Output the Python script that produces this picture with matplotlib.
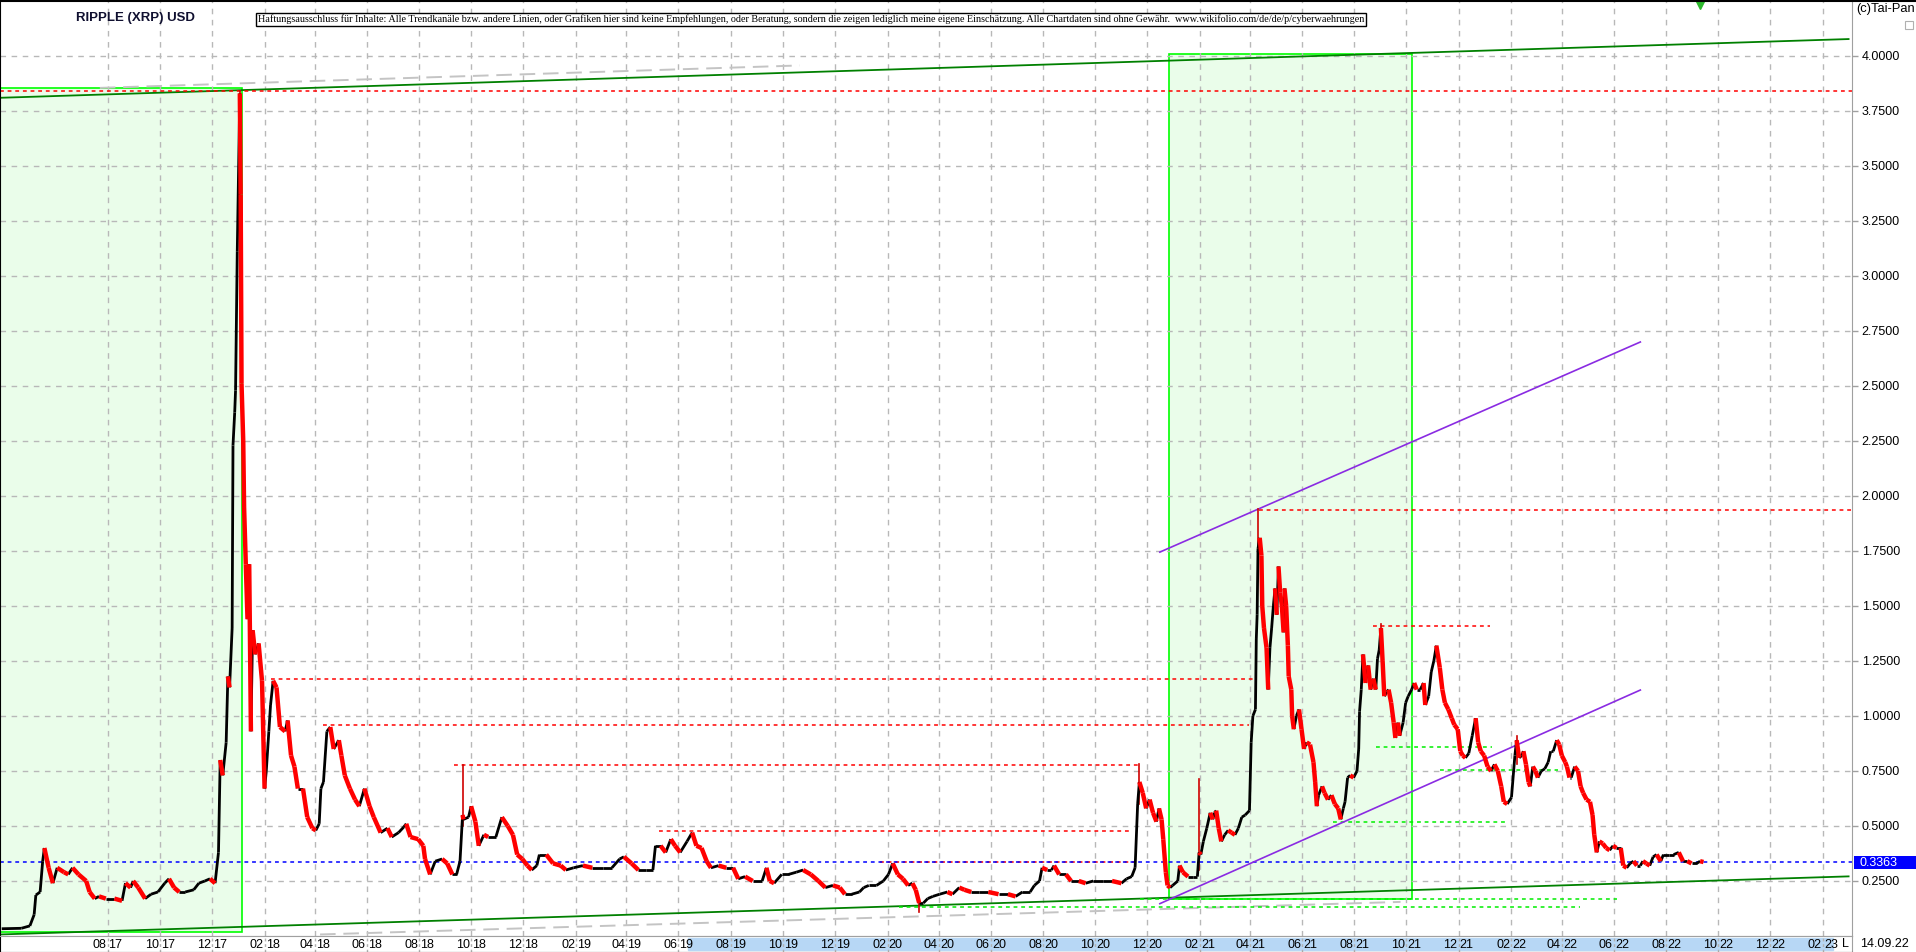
import numpy as np
import pandas as pd
import matplotlib
matplotlib.use("Agg")
import matplotlib.pyplot as plt
import matplotlib.dates as mdates
from matplotlib.collections import LineCollection
from matplotlib.patches import Rectangle
from matplotlib.lines import Line2D

plt.rcParams['font.family'] = ['Liberation Sans', 'DejaVu Sans']

title = "RIPPLE (XRP) USD"
disclaimer = ("Haftungsausschluss für Inhalte: Alle Trendkanäle bzw. andere Linien, oder Grafiken hier sind keine "
              "Empfehlungen, oder Beratung, sondern die zeigen lediglich meine eigene Einschätzung. "
              "Alle Chartdaten sind ohne Gewähr.  www.wikifolio.com/de/de/p/cyberwaehrungen")
copyright_txt = "(c)Tai-Pan"
last_date = "14.09.22"
last_price = 0.3363

# closes (MM-DD, USD)
y2017 = [("03-30",.033),("04-22",.035),("05-02",.046),("05-07",.097),("05-09",.186),("05-14",.20),
         ("05-17",.34),("05-19",.40),("05-24",.31),("05-29",.24),("06-03",.31),("06-11",.29),("06-16",.28),
         ("06-21",.31),("06-28",.28),("07-07",.25),("07-11",.20),("07-17",.17),("07-22",.18),("07-30",.17),
         ("08-09",.17),("08-18",.16),("08-22",.24),("08-28",.22),("08-31",.25),("09-06",.22),("09-14",.17),
         ("09-21",.19),("09-29",.20),("10-07",.24),("10-12",.26),("10-18",.22),("10-24",.20),("10-31",.20),
         ("11-10",.21),("11-16",.24),("11-23",.25),("11-29",.26),("12-05",.24),("12-09",.38),("12-11",.80),
         ("12-14",.73),("12-18",.88),("12-20",1.18),("12-22",1.13),("12-25",1.40),("12-26",2.23),
         ("12-28",2.38),("12-29",2.48),("12-31",3.11)]
y2018 = [("01-03",3.83),("01-04",3.37),("01-05",2.51),("01-07",2.25),("01-08",1.95),("01-10",1.69),
         ("01-12",1.44),("01-14",1.69),("01-16",.93),("01-18",1.39),("01-21",1.28),("01-25",1.33),
         ("01-29",1.16),("02-01",.67),("02-03",.75),("02-06",.93),("02-08",1.05),("02-11",1.16),
         ("02-15",1.13),("02-19",.95),("02-25",.93),("02-28",.98),("03-04",.82),("03-08",.77),("03-12",.67),
         ("03-18",.67),("03-23",.54),("03-29",.49),("04-02",.48),("04-06",.51),("04-08",.67),("04-11",.70),
         ("04-15",.93),("04-19",.95),("04-23",.85),("04-29",.89),("05-02",.82),("05-06",.73),("05-12",.67),
         ("05-18",.62),("05-23",.59),("05-29",.67),("06-04",.59),("06-09",.54),("06-17",.47),("06-25",.49),
         ("06-30",.45),("07-08",.47),("07-14",.495),("07-17",.51),("07-22",.45),("07-31",.44),("08-06",.41),
         ("08-08",.35),("08-14",.28),("08-20",.34),("08-28",.35),("09-03",.33),("09-09",.28),("09-14",.28),
         ("09-18",.34),("09-21",.55),("09-22",.53),("09-28",.54),("10-01",.59),("10-06",.52),("10-10",.41),
         ("10-16",.46),("10-21",.45),("10-30",.45),("11-06",.54),("11-13",.50),("11-19",.46),("11-24",.37),
         ("11-30",.35),("12-06",.32),("12-11",.30),("12-17",.32),("12-20",.37),("12-28",.37)]
y2019 = [("01-05",.33),("01-14",.32),("01-20",.30),("01-29",.31),("02-09",.32),("02-20",.31),("03-04",.31),
         ("03-15",.31),("03-24",.35),("03-29",.36),("04-07",.33),("04-15",.30),("04-24",.30),("05-02",.30),
         ("05-05",.41),("05-11",.41),("05-17",.38),("05-23",.44),("05-28",.41),("06-03",.38),("06-11",.43),
         ("06-17",.47),("06-22",.41),("06-28",.40),("07-04",.34),("07-09",.31),("07-18",.32),("07-27",.31),
         ("08-04",.31),("08-10",.26),("08-18",.27),("08-27",.25),("09-07",.25),("09-12",.31),("09-16",.25),
         ("09-21",.24),("09-30",.28),("10-08",.28),("10-17",.29),("10-25",.30),("11-03",.28),("11-12",.25),
         ("11-20",.22),("11-29",.23),("12-07",.22),("12-13",.19),("12-21",.19),("12-30",.20)]
y2020 = [("01-04",.22),("01-10",.23),("01-19",.23),("01-27",.25),("02-02",.28),("02-07",.33),("02-13",.28),
         ("02-19",.26),("02-25",.23),("03-01",.24),("03-05",.21),("03-09",.15),("03-14",.15),("03-19",.17),
         ("03-25",.18),("04-02",.19),("04-11",.20),("04-17",.19),("04-25",.22),("05-01",.21),("05-09",.20),
         ("05-18",.20),("05-29",.20),("06-10",.19),("06-21",.19),("06-30",.18),("07-08",.20),("07-17",.20),
         ("07-22",.23),("07-28",.25),("07-31",.31),("08-06",.30),("08-11",.30),("08-14",.32),("08-20",.28),
         ("08-28",.28),("09-03",.25),("09-12",.25),("09-20",.24),("09-29",.25),("10-10",.25),("10-21",.25),
         ("11-01",.24),("11-07",.26),("11-13",.27),("11-17",.31),("11-20",.60),("11-22",.70),("11-26",.65),
         ("11-30",.58),("12-04",.62),("12-08",.56),("12-12",.52),("12-15",.58),("12-18",.53),("12-20",.44),
         ("12-23",.29),("12-25",.23),("12-28",.22),("12-31",.23)]
y2021 = [("01-06",.25),("01-08",.32),("01-12",.29),("01-18",.27),("01-24",.27),("01-29",.27),("01-31",.38),
         ("02-02",.37),("02-05",.43),("02-09",.49),("02-13",.56),("02-16",.53),("02-18",.56),("02-20",.57),
         ("02-23",.49),("02-26",.43),("03-02",.46),("03-06",.48),("03-10",.47),("03-14",.46),("03-18",.49),
         ("03-22",.54),("03-26",.55),("03-31",.57),("04-02",.88),("04-04",1.00),("04-07",1.03),("04-08",1.35),
         ("04-09",1.46),("04-10",1.76),("04-12",1.81),("04-14",1.73),("04-15",1.50),("04-17",1.40),
         ("04-20",1.31),("04-22",1.12),("04-24",1.31),("04-26",1.40),("04-28",1.50),("04-30",1.58),
         ("05-02",1.46),("05-04",1.68),("05-06",1.56),("05-08",1.50),("05-10",1.38),("05-11",1.58),
         ("05-13",1.50),("05-15",1.32),("05-16",1.18),("05-19",1.12),("05-20",1.00),("05-22",.94),
         ("05-25",1.00),("05-28",1.03),("05-31",.94),("06-03",.85),("06-06",.88),("06-10",.87),("06-14",.79),
         ("06-16",.70),("06-18",.59),("06-20",.64),("06-24",.68),("06-27",.65),("07-01",.62),("07-05",.64),
         ("07-09",.60),("07-13",.58),("07-16",.53),("07-19",.58),("07-21",.61),("07-24",.72),("07-27",.73),
         ("07-31",.72),("08-04",.75),("08-06",.85),("08-07",1.02),("08-09",1.12),("08-11",1.28),("08-14",1.15),
         ("08-17",1.23),("08-20",1.12),("08-23",1.17),("08-26",1.12),("08-28",1.26),("08-30",1.30),
         ("09-01",1.40),("09-03",1.25),("09-05",1.09),("09-08",1.11),("09-10",1.12),("09-13",1.06),
         ("09-16",.97),("09-18",.90),("09-21",.97),("09-23",.91),("09-27",.97),("09-30",1.06),("10-03",1.09),
         ("10-07",1.12),("10-10",1.15),("10-13",1.12),("10-17",1.12),("10-21",1.15),("10-23",1.05),
         ("10-27",1.09),("10-30",1.20),("11-02",1.25),("11-05",1.32),("11-09",1.22),("11-12",1.12),
         ("11-15",1.06),("11-19",1.03),("11-23",.99),("11-26",.96),("11-30",.94),("12-03",.84),("12-06",.82),
         ("12-09",.81),("12-13",.83),("12-17",.91),("12-21",.99),("12-24",.88),("12-27",.84),("12-31",.82)]
y2022 = [("01-04",.77),("01-08",.75),("01-12",.78),("01-16",.75),("01-20",.68),("01-23",.61),("01-27",.60),
         ("02-01",.63),("02-05",.82),("02-07",.89),("02-10",.81),("02-13",.82),("02-15",.84),("02-18",.78),
         ("02-21",.70),("02-23",.68),("02-26",.77),("03-01",.75),("03-04",.72),("03-08",.75),("03-12",.76),
         ("03-16",.79),("03-19",.84),("03-22",.84),("03-26",.89),("03-29",.87),("04-01",.82),("04-05",.79),
         ("04-07",.77),("04-10",.72),("04-12",.72),("04-16",.77),("04-20",.75),("04-23",.68),("04-26",.65),
         ("04-30",.62),("05-04",.61),("05-07",.55),("05-09",.46),("05-12",.38),("05-15",.43),("05-19",.42),
         ("05-23",.40),("05-27",.39),("05-31",.41),("06-04",.40),("06-09",.40),("06-12",.32),("06-16",.31),
         ("06-20",.33),("06-24",.34),("06-28",.32),("07-02",.32),("07-05",.34),("07-09",.33),("07-13",.32),
         ("07-17",.36),("07-21",.37),("07-26",.34),("07-29",.37),("08-04",.37),("08-10",.37),("08-16",.38),
         ("08-21",.34),("08-26",.34),("08-31",.33),("09-06",.33),("09-10",.34),("09-14",.3363)]

# long wicks
wick_dates = ["2018-01-03", "2018-09-21", "2020-03-09", "2020-11-22", "2021-01-31", "2021-04-10", "2021-09-01", "2022-02-07"]
wick_low = [3.2, 0.50, 0.11, 0.60, 0.30, 1.70, 1.30, 0.78]
wick_high = [3.84, 0.776, 0.16, 0.78, 0.715, 1.94, 1.42, 0.91]

# drawn support / resistance levels: value, from, to
red_levels = [3.84, 1.168, 0.96, 0.776, 0.477, 0.335, 1.938, 1.41]
red_from = ["2017-03-28", "2018-02-08", "2018-04-10", "2018-09-11", "2019-05-09", "2020-01-23", "2021-04-11", "2021-08-23"]
red_to = ["2023-03-07", "2021-04-04", "2021-03-30", "2020-11-20", "2020-11-12", "2020-11-20", "2023-03-07", "2022-01-07"]
green_levels = [0.859, 0.755, 0.518, 0.17, 0.132]
green_from = ["2021-08-26", "2021-11-09", "2021-07-07", "2020-11-23", "2020-02-14"]
green_to = ["2022-01-09", "2022-03-27", "2022-01-28", "2022-06-05", "2022-04-22"]

# trend lines: (date0, value0, date1, value1)
trend_green = [("2017-03-28", 3.81, "2023-03-03", 4.077), ("2017-03-28", 0.007, "2023-03-03", 0.271)]
trend_grey = [("2017-07-23", 3.855, "2019-10-21", 3.957), ("2018-04-07", 0.007, "2021-09-24", 0.155)]
trend_purple = [("2020-12-16", 1.745, "2022-07-02", 2.70), ("2020-12-16", 0.147, "2022-07-02", 1.118)]

# highlighted time ranges: from, to, low, high
boxes = [("2017-03-20", "2018-01-05", 0.018, 3.855), ("2020-12-27", "2021-10-08", 0.166, 4.01)]

x_start, x_end = "2017-03-28", "2023-03-07"
band_start, band_end = "2019-06-12", "2023-02-13"
tick_dates = pd.date_range("2017-08-01", "2023-02-01", freq="2MS")


def dn(s):
    return mdates.date2num(pd.Timestamp(s))


rows = []
for yr, lst in [(2017, y2017), (2018, y2018), (2019, y2019), (2020, y2020), (2021, y2021), (2022, y2022)]:
    for md, v in lst:
        rows.append((dn(f"{yr}-{md}"), v))
dates = np.array([r[0] for r in rows])
close = np.array([r[1] for r in rows])

W, H = 1916, 952
plot_w, plot_h, strip_h = 1852, 936, 16
fig = plt.figure(figsize=(W / 100, H / 100), dpi=100)
ax = fig.add_axes([0, strip_h / H, plot_w / W, plot_h / H])
ax.set_xlim(dn(x_start), dn(x_end))
ax.set_ylim(0, 4.2545)

# grid
ax.set_axisbelow(True)
ax.set_yticks(np.arange(0.25, 4.01, 0.25))
ax.set_xticks(mdates.date2num(tick_dates))
ax.grid(True, color='#b8b8b8', linestyle=(0, (4, 4)), lw=1)
ax.tick_params(axis='x', length=0, labelbottom=False)
ax.yaxis.tick_right()
ax.yaxis.set_major_formatter(matplotlib.ticker.FormatStrFormatter('%.4f'))
ax.tick_params(axis='y', direction='out', length=4, width=1, color='#a0a0a0', pad=3, labelsize=9)
for side in ['left', 'top']:
    ax.spines[side].set_color('black')
for side in ['right', 'bottom']:
    ax.spines[side].set_color('#a0a0a0')

# light green boxes
for d0, d1, lo, hi in boxes:
    ax.add_patch(Rectangle((dn(d0), lo), dn(d1) - dn(d0), hi - lo, facecolor='#eafdea',
                           edgecolor='#00ff00', lw=1.2, zorder=0.2))

# trend lines
for d0, v0, d1, v1 in trend_grey:
    ax.plot([dn(d0), dn(d1)], [v0, v1], color='#c4c4c4', lw=1.4, ls=(0, (8, 4)), zorder=1)
for d0, v0, d1, v1 in trend_green:
    ax.plot([dn(d0), dn(d1)], [v0, v1], color='#008000', lw=1.3, zorder=2)

# horizontal levels
for v, d0, d1 in zip(red_levels, red_from, red_to):
    ax.plot([dn(d0), dn(d1)], [v, v], color='#ff0000', lw=1.1, ls=(0, (2.5, 2.5)), zorder=2)
for v, d0, d1 in zip(green_levels, green_from, green_to):
    ax.plot([dn(d0), dn(d1)], [v, v], color='#00ee00', lw=1.1, ls=(0, (2.5, 2.5)), zorder=2)
ax.axhline(last_price, color='#0000ff', lw=1.1, ls=(0, (2.5, 2.5)), zorder=2)

for d0, v0, d1, v1 in trend_purple:
    ax.plot([dn(d0), dn(d1)], [v0, v1], color='#8a2be2', lw=1.2, zorder=2)

# price
for wd, lo, hi in zip(wick_dates, wick_low, wick_high):
    ax.plot([dn(wd), dn(wd)], [lo, hi], color='#d00000', lw=1.2, zorder=3)
pts = np.column_stack([dates, close])
segs = np.stack([pts[:-1], pts[1:]], axis=1)
up = close[1:] >= close[:-1]
ax.add_collection(LineCollection(segs[up], colors='black', linewidths=2.0, zorder=4))
ax.add_collection(LineCollection(segs[~up], colors='#ff0000', linewidths=3.2, zorder=5))

ax.plot(dn("2022-09-10"), 4.235, marker='v', color='#2cb82c', ms=7, clip_on=False, zorder=6)

# date strip
axd = fig.add_axes([0, 0, plot_w / W, strip_h / H])
axd.set_xlim(ax.get_xlim())
axd.set_ylim(0, 1)
axd.set_xticks([])
axd.set_yticks([])
axd.axvspan(dn(band_start), dn(band_end), ymin=0.12, ymax=0.9, color='#b7d7f5', zorder=0)
for side in ['top', 'right']:
    axd.spines[side].set_color('#a0a0a0')
for t in tick_dates:
    tn = mdates.date2num(t)
    axd.axvline(tn, color='#b0b0b0', lw=1, ls=(0, (2, 2)), zorder=1)
    axd.text(tn - 1.2, 0.42, t.strftime("%m"), ha='right', va='center', fontsize=9, zorder=2)
    axd.text(tn + 1.2, 0.42, t.strftime("%y"), ha='left', va='center', fontsize=9, zorder=2)
fig.text(1845 / W, 1 - 944 / H, "L", ha='center', va='center', fontsize=9)
fig.text(1860 / W, 1 - 944 / H, last_date, ha='left', va='center', fontsize=9)

# right panel extras
fig.add_artist(Rectangle((1854 / W, 1 - 869 / H), 62 / W, 13 / H, transform=fig.transFigure,
                         facecolor='#0000ff', edgecolor='none'))
fig.text(1860 / W, 1 - 862.5 / H, f"{last_price:.4f}", color='white', ha='left', va='center', fontsize=9)
fig.text(1856 / W, 1 - 9 / H, copyright_txt, ha='left', va='center', fontsize=9.3)
fig.add_artist(Rectangle((1905 / W, 1 - 29 / H), 8 / W, 8 / H, transform=fig.transFigure,
                         facecolor='white', edgecolor='#b0b0b0', lw=0.8))
fig.add_artist(Line2D([0, 1], [1 - 0.5 / H, 1 - 0.5 / H], transform=fig.transFigure, color='black', lw=1.5))

# header texts
fig.text(76 / W, 1 - 18 / H, title, ha='left', va='center', fontsize=9.5, fontweight='bold', color='#101030')
disc = fig.text(258 / W, 1 - 19.5 / H, disclaimer, ha='left', va='center', fontsize=7,
                family=['Liberation Serif', 'DejaVu Serif'],
                bbox=dict(boxstyle='square,pad=0.2', facecolor='white', edgecolor='black', lw=1))
r = fig.canvas.get_renderer()
bw = disc.get_window_extent(r).width
disc.set_fontsize(7 * 1115 / bw)

fig.savefig("out.png", dpi=100)
